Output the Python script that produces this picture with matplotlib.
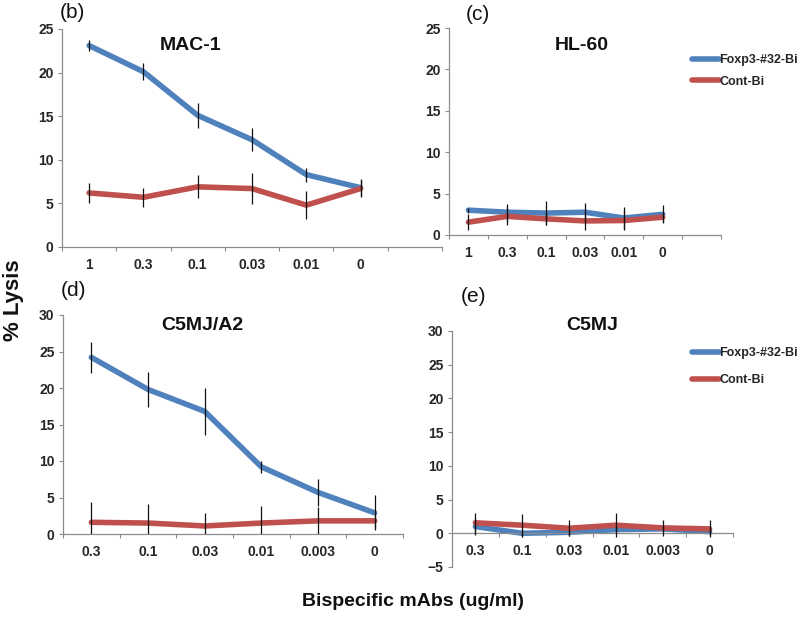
import matplotlib
import matplotlib.pyplot as plt
import numpy as np

matplotlib.use("Agg")

plt.rcParams["font.family"] = ["Liberation Sans", "DejaVu Sans"]

BLUE = "#4F81BD"
RED = "#C0504D"
SPINE = "#8c8c8c"
TEXT = "#262626"

SERIES = ["Foxp3-#32-Bi", "Cont-Bi"]

# (b) MAC-1
mac1_doses = ["1", "0.3", "0.1", "0.03", "0.01", "0"]
mac1_foxp3 = [23.1, 20.1, 15.1, 12.3, 8.3, 6.8]
mac1_foxp3_err = [0.6, 1.0, 1.4, 1.3, 0.8, 1.0]
mac1_cont = [6.2, 5.7, 6.9, 6.7, 4.8, 6.7]
mac1_cont_err = [1.1, 1.1, 1.3, 1.8, 1.6, 1.0]

# (c) HL-60
hl60_doses = ["1", "0.3", "0.1", "0.03", "0.01", "0"]
hl60_foxp3 = [3.0, 2.75, 2.65, 2.75, 2.05, 2.5]
hl60_foxp3_err = [0.3, 1.0, 1.5, 1.1, 1.3, 1.1]
hl60_cont = [1.55, 2.25, 1.95, 1.7, 1.75, 2.15]
hl60_cont_err = [1.0, 1.1, 0.8, 1.1, 1.1, 0.6]

# (d) C5MJ/A2
a2_doses = ["0.3", "0.1", "0.03", "0.01", "0.003", "0"]
a2_foxp3 = [24.2, 19.8, 16.8, 9.2, 5.7, 2.9]
a2_foxp3_err = [2.1, 2.4, 3.2, 0.8, 1.9, 2.4]
a2_cont = [1.6, 1.5, 1.1, 1.5, 1.8, 1.8]
a2_cont_err = [2.8, 2.6, 1.8, 2.4, 1.9, 1.0]

# (e) C5MJ
c5_doses = ["0.3", "0.1", "0.03", "0.01", "0.003", "0"]
c5_foxp3 = [1.0, 0.0, 0.15, 0.55, 0.65, 0.25]
c5_foxp3_err = [1.3, 0.6, 0.5, 0.6, 0.5, 0.5]
c5_cont = [1.55, 1.2, 0.75, 1.2, 0.8, 0.65]
c5_cont_err = [1.45, 1.7, 1.15, 1.8, 1.2, 1.25]

W, H = 800, 617
fig = plt.figure(figsize=(W / 100, H / 100), dpi=100)


def px_axes(left, right, top, bottom):
    return fig.add_axes([left / W, 1 - bottom / H, (right - left) / W, (bottom - top) / H])


def draw_panel(ax, doses, foxp3, foxp3_err, cont, cont_err, ylim, yticks, nslots, title, title_xy):
    x = np.arange(len(doses))
    ax.plot(x, foxp3, color=BLUE, lw=4.0, solid_capstyle="round", solid_joinstyle="round",
            label=SERIES[0], zorder=2)
    ax.plot(x, cont, color=RED, lw=4.0, solid_capstyle="round", solid_joinstyle="round",
            label=SERIES[1], zorder=2)
    ax.errorbar(x, foxp3, yerr=foxp3_err, fmt="none", ecolor="#111111", elinewidth=0.9,
                capsize=0, zorder=3)
    ax.errorbar(x, cont, yerr=cont_err, fmt="none", ecolor="#111111", elinewidth=0.9,
                capsize=0, zorder=3)

    ax.set_xlim(-0.5, nslots - 0.5)
    ax.set_ylim(*ylim)
    ax.set_yticks(yticks)
    ax.set_xticks(x)
    ax.set_xticklabels(doses)
    ax.set_xticks(np.arange(nslots + 1) - 0.5, minor=True)

    for side in ("top", "right"):
        ax.spines[side].set_visible(False)
    for side in ("left", "bottom"):
        ax.spines[side].set_color(SPINE)
        ax.spines[side].set_linewidth(0.9)
    ax.spines["bottom"].set_position(("data", 0))

    ax.tick_params(axis="x", which="major", length=0, pad=8, labelsize=10, labelcolor=TEXT)
    ax.tick_params(axis="x", which="minor", length=3, width=0.8, color=SPINE, direction="out")
    ax.tick_params(axis="y", length=3, width=0.8, color=SPINE, direction="out", pad=3,
                   labelsize=10, labelcolor=TEXT)
    for lab in ax.get_xticklabels() + ax.get_yticklabels():
        lab.set_fontweight("bold")

    fig.text(title_xy[0] / W, 1 - title_xy[1] / H, title, ha="center", va="center",
             fontsize=14, fontweight="bold", color="#111111")


ax_b = px_axes(62, 442, 29, 247)
draw_panel(ax_b, mac1_doses, mac1_foxp3, mac1_foxp3_err, mac1_cont, mac1_cont_err,
           (0, 25), range(0, 26, 5), 7, "MAC-1", (191, 45))

ax_c = px_axes(449, 721, 28, 235)
draw_panel(ax_c, hl60_doses, hl60_foxp3, hl60_foxp3_err, hl60_cont, hl60_cont_err,
           (0, 25), range(0, 26, 5), 7, "HL-60", (582, 46))

ax_d = px_axes(63, 403, 315, 534)
draw_panel(ax_d, a2_doses, a2_foxp3, a2_foxp3_err, a2_cont, a2_cont_err,
           (0, 30), range(0, 31, 5), 6, "C5MJ/A2", (202, 325))

ax_e = px_axes(452, 733, 331, 567)
draw_panel(ax_e, c5_doses, c5_foxp3, c5_foxp3_err, c5_cont, c5_cont_err,
           (-5, 30), range(-5, 31, 5), 6, "C5MJ", (592, 325))

for ax, y in ((ax_c, 48), (ax_e, 341)):
    leg = ax.legend(loc="upper left", bbox_to_anchor=(686 / W, 1 - y / H),
                    bbox_transform=fig.transFigure, frameon=False, handlelength=2.1,
                    handletextpad=0.05, labelspacing=0.75 if ax is ax_c else 1.2,
                    prop={"size": 9, "weight": "bold"}, labelcolor=TEXT, borderpad=0)
    for line in leg.get_lines():
        line.set_linewidth(4.0)

for label, (px, py) in {"(b)": (60, 13), "(c)": (466, 15), "(d)": (61, 290), "(e)": (461, 296)}.items():
    fig.text(px / W, 1 - py / H, label, ha="left", va="center", fontsize=15, color="#111111")

fig.text(14 / W, 1 - 300 / H, "% Lysis", rotation=90, ha="center", va="center",
         fontsize=16, fontweight="bold", color="#111111")
fig.text(413 / W, 1 - 602 / H, "Bispecific mAbs (ug/ml)", ha="center", va="center",
         fontsize=14, fontweight="bold", color="#111111")

fig.savefig("out.png", dpi=100)
